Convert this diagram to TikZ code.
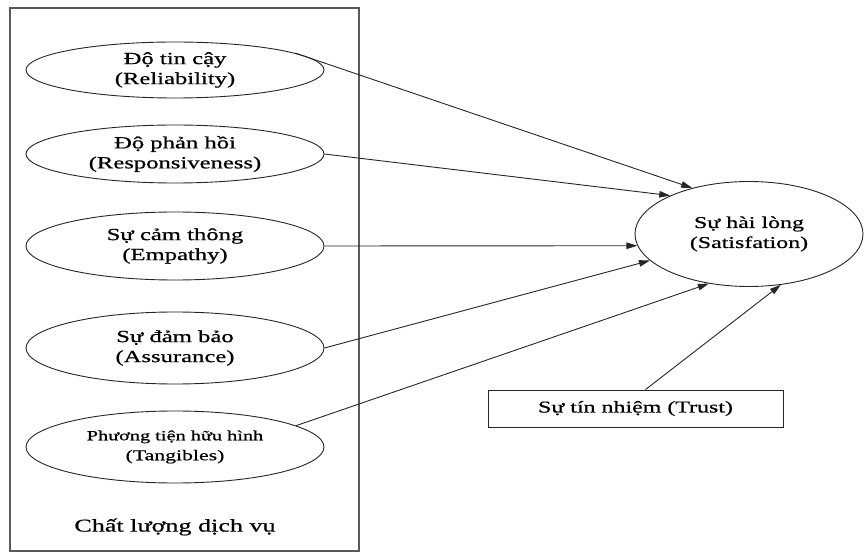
\documentclass[tikz,border=0pt]{standalone}
\usepackage{fontspec}
\setmainfont{Liberation Serif}[FakeStretch=1.45,FakeBold=0.7]
\usetikzlibrary{shapes.geometric,arrows.meta}
\newcommand{\labelfont}{\fontsize{17}{20}\selectfont}
\newcommand{\factorNode}[4]{% #1: name of node
                            % #2: vertical position of centre
                            % #3: height of ellipse
                            % #4: text of node
    \node (#1) [ellipse, draw=\lineclr, line width=\thinline, fill=white,
                minimum width=298pt, minimum height=#3, inner sep=0pt,
                align=center, font=\labelfont, at={(175,#2)}] {#4};
   }

\begin{document}
\begin{tikzpicture}[x=1pt,y=-1pt]

\def\lineclr{black!85}
\def\frameclr{black!65}
\def\thinline{0.9pt}
\def\thickline{1.8pt}
\def\tip{Triangle[length=11pt,width=6.5pt]}

\useasboundingbox (0,0) rectangle (865,553);

% group frame
\draw[draw=\frameclr, line width=\thickline] (10,8) rectangle (359,551);

  \factorNode{rel}{70}{56pt}{Độ tin cậy\\(Reliability)};
  \factorNode{resp}{154}{58pt}{Độ phản hồi\\(Responsiveness)};
  \factorNode{emp}{246}{68pt}{Sự cảm thông\\(Empathy)};
  \factorNode{ass}{348}{72pt}{Sự đảm bảo\\(Assurance)};
  \factorNode{tang}{447}{72pt}{{\fontsize{14}{17}\selectfont Phương tiện hữu hình}\\{\fontsize{15}{17}\selectfont (Tangibles)}};

\node (quality) [font=\fontsize{18}{20}\selectfont, at={(175,527)}] {Chất lượng dịch vụ};

\node (sat) [ellipse, draw=\lineclr, line width=\thinline, minimum width=228pt,
             minimum height=105pt, inner sep=0pt, align=center,
             font=\fontsize{16.5}{20}\selectfont, at={(749,234)}] {Sự hài lòng\\(Satisfation)};

\node (trust) [rectangle, draw=\lineclr, line width=\thinline, minimum width=295pt,
               minimum height=37pt, font=\fontsize{16.5}{20}\selectfont,
               at={(635.5,408.5)}] {Sự tín nhiệm (Trust)};

\draw[draw=\lineclr, line width=\thinline, -{\tip}] (rel.8)--(sat.141);
\draw[draw=\lineclr, line width=\thinline, -{\tip}] (resp.east)--(sat.154);
\draw[draw=\lineclr, line width=\thinline, -{\tip}] (emp.east)--(sat.186);
\draw[draw=\lineclr, line width=\thinline, -{\tip}] (ass.east)--(sat.195);
\draw[draw=\lineclr, line width=\thinline, -{\tip}] (tang.10)--(sat.231);
\draw[draw=\lineclr, line width=\thinline, -{\tip}] ([xshift=10pt]trust.north)--(sat.302);

\end{tikzpicture}
\end{document}
